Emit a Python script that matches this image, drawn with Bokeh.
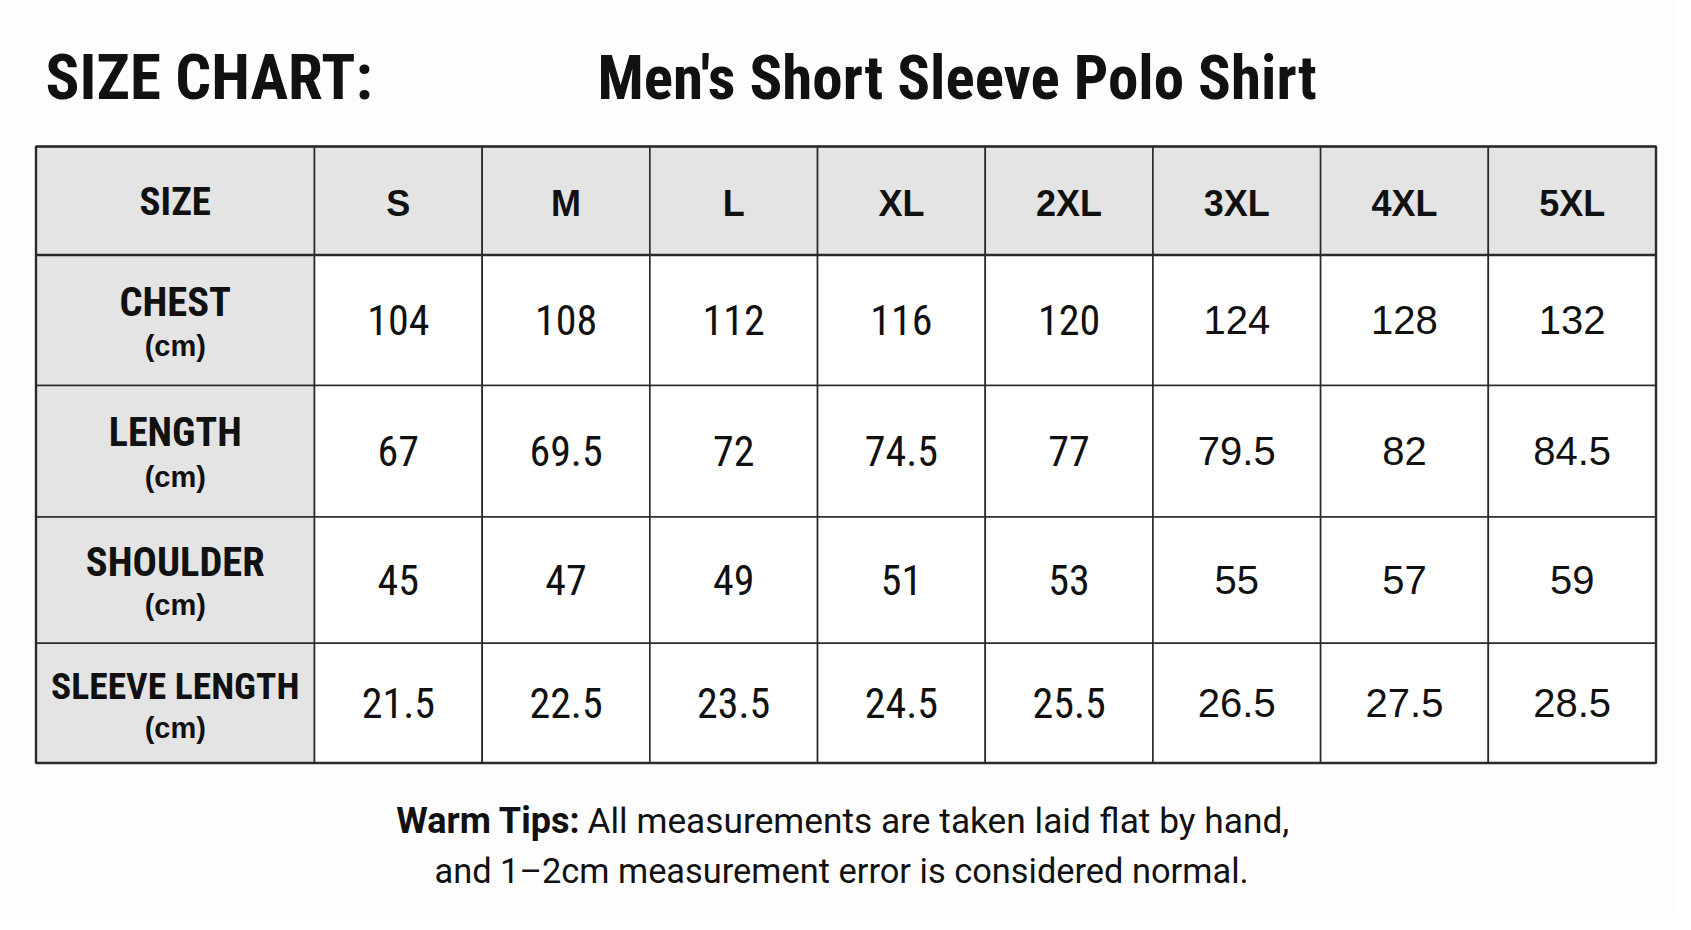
from bokeh.plotting import figure
from bokeh.models import Range1d
from bokeh.core.properties import value
from bokeh.embed import file_html
from bokeh.resources import INLINE

# ---------------- data ----------------
title_left = "SIZE CHART:"
title_right = "Men's Short Sleeve Polo Shirt"
corner_label = "SIZE"
sizes = ["S", "M", "L", "XL", "2XL", "3XL", "4XL", "5XL"]
measures = ["CHEST", "LENGTH", "SHOULDER", "SLEEVE LENGTH"]
unit = "(cm)"
chest = ["104", "108", "112", "116", "120", "124", "128", "132"]
length = ["67", "69.5", "72", "74.5", "77", "79.5", "82", "84.5"]
shoulder = ["45", "47", "49", "51", "53", "55", "57", "59"]
sleeve = ["21.5", "22.5", "23.5", "24.5", "25.5", "26.5", "27.5", "28.5"]
rows = [chest, length, shoulder, sleeve]
tip_bold = "Warm Tips:"
tip_line1 = "All measurements are taken laid flat by hand,"
tip_line2 = "and 1\u20132cm measurement error is considered normal."

# ---------------- layout (page pixel coordinates) ----------------
W, H = 1675, 914
TBL_L, TBL_R = 35.5, 1655.5
FIRST_W = 278.5
COL_W = (TBL_R - TBL_L - FIRST_W) / len(sizes)
ROW_EDGES = [146, 254.5, 385, 516.5, 642.7, 762.5]
GRAY = "#e4e4e4"
LINE = "#2a2a2a"
TXT = "#111111"
COND = "Roboto Condensed"
NORMAL = "Liberation Sans"
SHIFT = 0.37  # baseline correction, fraction of font size


def by(baseline, size):
    return baseline - SHIFT * size


col_edges = [TBL_L, TBL_L + FIRST_W] + [TBL_L + FIRST_W + COL_W * (i + 1) for i in range(len(sizes))]
col_centers = [(col_edges[i] + col_edges[i + 1]) / 2 for i in range(len(col_edges) - 1)]
row_centers = [(ROW_EDGES[i] + ROW_EDGES[i + 1]) / 2 for i in range(len(ROW_EDGES) - 1)]

p = figure(width=W, height=H, x_range=Range1d(0, W), y_range=Range1d(H, 0),
           output_backend="svg", toolbar_location=None, min_border=0,
           x_axis_location=None, y_axis_location=None)
p.grid.visible = False
p.outline_line_color = None
p.background_fill_color = "#fdfdfd"
p.border_fill_color = "#fdfdfd"

# cells
L, R, T, B, C = [], [], [], [], []
for r in range(len(ROW_EDGES) - 1):
    for c in range(len(col_edges) - 1):
        L.append(col_edges[c]); R.append(col_edges[c + 1])
        T.append(ROW_EDGES[r]); B.append(ROW_EDGES[r + 1])
        C.append(GRAY if (r == 0 or c == 0) else "#ffffff")
p.quad(left=L, right=R, top=T, bottom=B, fill_color=C, line_color=LINE, line_width=1.6)
p.quad(left=[TBL_L], right=[TBL_R], top=[ROW_EDGES[0]], bottom=[ROW_EDGES[-1]],
       fill_color=None, line_color=LINE, line_width=2.4)
p.segment(x0=[TBL_L], x1=[TBL_R], y0=[ROW_EDGES[1]], y1=[ROW_EDGES[1]], line_color=LINE, line_width=2.4)


def txt(xs, ys, texts, font, size, bold=False, align="center"):
    p.text(x=xs, y=[by(y, size) for y in ys], text=texts, text_font=value(font),
           text_font_style="bold" if bold else "normal", text_font_size=f"{size}px",
           text_align=align, text_baseline="alphabetic", text_color=TXT)


# titles
txt([45], [100], [title_left], COND, 63, bold=True, align="left")
txt([597], [100], [title_right], COND, 61, bold=True, align="left")

# header row
txt([col_centers[0]], [216], [corner_label], COND, 39, bold=True)
txt(col_centers[1:], [216] * len(sizes), sizes, NORMAL, 36, bold=True)

# row labels
body_c = row_centers[1:]
label_sizes = [40.5, 40, 40.5, 37.5]
for i, m in enumerate(measures):
    txt([col_centers[0]], [body_c[i] - 3.5], [m], COND, label_sizes[i], bold=True)
txt([col_centers[0]] * len(measures), [c + 36 for c in body_c], [unit] * len(measures), NORMAL, 29, bold=True)

# values
for r, vals in enumerate(rows):
    n = 5
    txt(col_centers[1:1 + n], [body_c[r] + 15] * n, vals[:n], COND, 42)
    txt(col_centers[1 + n:], [body_c[r] + 15] * (len(vals) - n), vals[n:], NORMAL, 40)

# warm tips
txt([580], [834], [tip_bold], "Roboto", 36, bold=True, align="right")
txt([587], [834], [tip_line1], "Roboto", 35.3, align="left")
txt([841], [883], [tip_line2], "Roboto", 34.4)

open("out.html", "w").write(file_html(p, INLINE))
